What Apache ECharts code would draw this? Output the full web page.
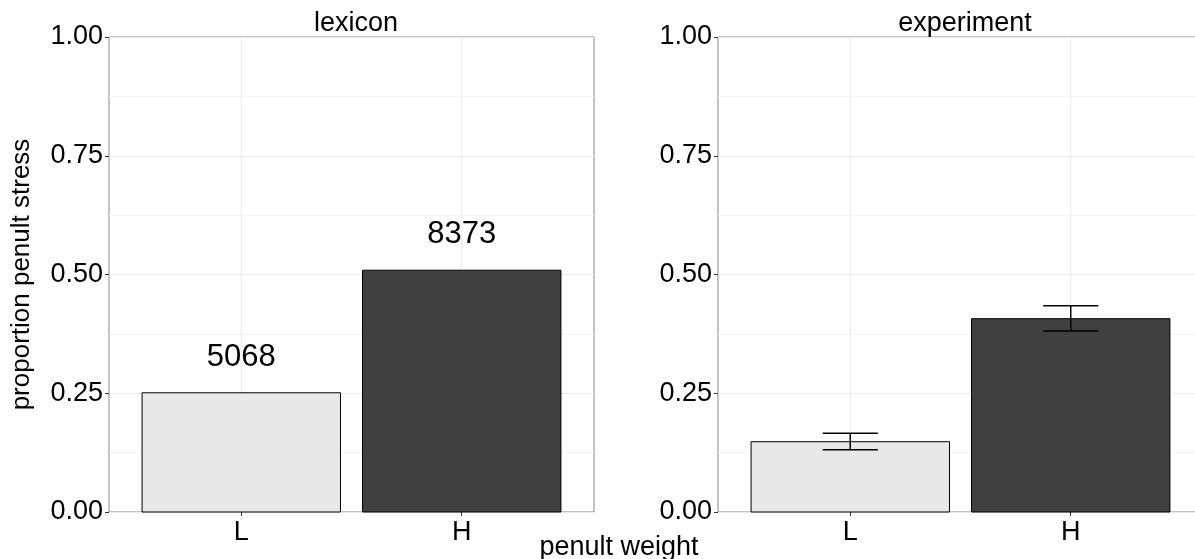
<!DOCTYPE html>
<html>
<head>
<meta charset="utf-8">
<script src="https://cdn.jsdelivr.net/npm/echarts@6/dist/echarts.min.js"></script>
<style>
html,body{margin:0;padding:0;background:#fff;overflow:hidden;width:1195px;height:559px;}
#chart{width:1205px;height:559px;}
</style>
</head>
<body>
<div id="chart"></div>
<script>
// ---- data ----
const categories = ['L', 'H'];
const panelTitles = ['lexicon', 'experiment'];
const lexiconValues = [0.251, 0.509];
const lexiconCounts = ['5068', '8373'];
const experimentValues = [0.148, 0.407];
const experimentLower = [0.131, 0.381];
const experimentUpper = [0.166, 0.434];
const yTicks = [0, 0.25, 0.5, 0.75, 1.0];
const barColors = ['#e8e8e8', '#404040'];

const FONT = '"Liberation Sans", Arial, Helvetica, sans-serif';
const catPos = categories.map((c, i) => i + 1);

const chart = echarts.init(document.getElementById('chart'), null, {renderer: 'canvas'});

function xAxisFor(gi) {
  return {
    type: 'value', gridIndex: gi, min: 0.4, max: 2.6,
    axisLine: {show: false},
    splitLine: {show: false},
    axisTick: {show: true, customValues: catPos, length: 4, lineStyle: {color: '#333', width: 1}},
    axisLabel: {
      customValues: catPos, margin: 7,
      formatter: v => categories[Math.round(v) - 1] || '',
      fontSize: 27, color: '#000', fontFamily: FONT
    }
  };
}
function yAxisFor(gi, withName) {
  return {
    type: 'value', gridIndex: gi, min: yTicks[0], max: yTicks[yTicks.length - 1], interval: 0.25,
    axisLine: {show: false},
    axisTick: {show: true, length: 4, lineStyle: {color: '#333', width: 1}},
    axisLabel: {formatter: v => v.toFixed(2), fontSize: 27, color: '#000', fontFamily: FONT, margin: 6},
    splitLine: {show: true, lineStyle: {color: '#ebebeb', width: 1}},
    minorTick: {show: false, splitNumber: 2},
    minorSplitLine: {show: true, lineStyle: {color: '#f5f5f5', width: 1}},
    name: withName ? 'proportion penult stress' : '',
    nameLocation: 'middle', nameRotate: 90, nameGap: 74,
    nameTextStyle: {fontSize: 26, color: '#000', fontFamily: FONT}
  };
}

function gridLineSeries(gi) {
  return {
    type: 'custom', xAxisIndex: gi, yAxisIndex: gi, silent: true, z: 1,
    data: catPos.map(p => [p]),
    renderItem: (params, api) => {
      const p0 = api.coord([api.value(0), 0]);
      const p1 = api.coord([api.value(0), 1]);
      return {type: 'line', shape: {x1: p0[0], y1: p0[1], x2: p1[0], y2: p1[1]},
              style: {stroke: '#ebebeb', lineWidth: 1}};
    }
  };
}

function barSeries(gi, values, labels) {
  return {
    type: 'custom', xAxisIndex: gi, yAxisIndex: gi, silent: true, z: 3,
    data: values.map((v, i) => [catPos[i], v, i]),
    renderItem: (params, api) => {
      const x = api.value(0), v = api.value(1), idx = api.value(2);
      const top = api.coord([x, v]);
      const base = api.coord([x, 0]);
      const w = api.size([0.9, 0])[0];
      const children = [{
        type: 'rect',
        shape: {x: top[0] - w / 2, y: top[1], width: w, height: base[1] - top[1]},
        style: {fill: barColors[idx], stroke: '#000', lineWidth: 1}
      }];
      if (labels) {
        children.push({
          type: 'text',
          style: {x: top[0], y: top[1] - 20, text: labels[idx], align: 'center', verticalAlign: 'bottom',
                  fontSize: 31, fill: '#000', fontFamily: FONT}
        });
      }
      return {type: 'group', children};
    }
  };
}

function errorSeries(gi, lower, upper) {
  return {
    type: 'custom', xAxisIndex: gi, yAxisIndex: gi, silent: true, z: 4,
    data: lower.map((l, i) => [catPos[i], l, upper[i]]),
    renderItem: (params, api) => {
      const x = api.value(0);
      const lo = api.coord([x, api.value(1)]);
      const hi = api.coord([x, api.value(2)]);
      const hw = api.size([0.25, 0])[0] / 2;
      const st = {stroke: '#000', lineWidth: 1.5};
      return {type: 'group', children: [
        {type: 'line', shape: {x1: lo[0], y1: lo[1], x2: hi[0], y2: hi[1]}, style: st},
        {type: 'line', shape: {x1: lo[0] - hw, y1: lo[1], x2: lo[0] + hw, y2: lo[1]}, style: st},
        {type: 'line', shape: {x1: hi[0] - hw, y1: hi[1], x2: hi[0] + hw, y2: hi[1]}, style: st}
      ]};
    }
  };
}

const option = {
  backgroundColor: '#fff',
  animation: false,
  title: [
    {text: panelTitles[0], left: 351, top: 5, textAlign: 'center',
     textStyle: {fontSize: 27, fontWeight: 'normal', color: '#000', fontFamily: FONT}},
    {text: panelTitles[1], left: 960, top: 5, textAlign: 'center',
     textStyle: {fontSize: 27, fontWeight: 'normal', color: '#000', fontFamily: FONT}},
    {text: 'penult weight', left: 614, top: 529, textAlign: 'center',
     textStyle: {fontSize: 27, fontWeight: 'normal', color: '#000', fontFamily: FONT}}
  ],
  grid: [
    {left: 109, top: 37, width: 485, height: 475, show: true, borderColor: '#888', borderWidth: 1, backgroundColor: 'transparent'},
    {left: 718, top: 37, width: 485, height: 475, show: true, borderColor: '#888', borderWidth: 1, backgroundColor: 'transparent'}
  ],
  xAxis: [xAxisFor(0), xAxisFor(1)],
  yAxis: [yAxisFor(0, true), yAxisFor(1, false)],
  series: [
    gridLineSeries(0),
    gridLineSeries(1),
    barSeries(0, lexiconValues, lexiconCounts),
    barSeries(1, experimentValues, null),
    errorSeries(1, experimentLower, experimentUpper)
  ]
};
chart.setOption(option);
</script>
</body>
</html>
